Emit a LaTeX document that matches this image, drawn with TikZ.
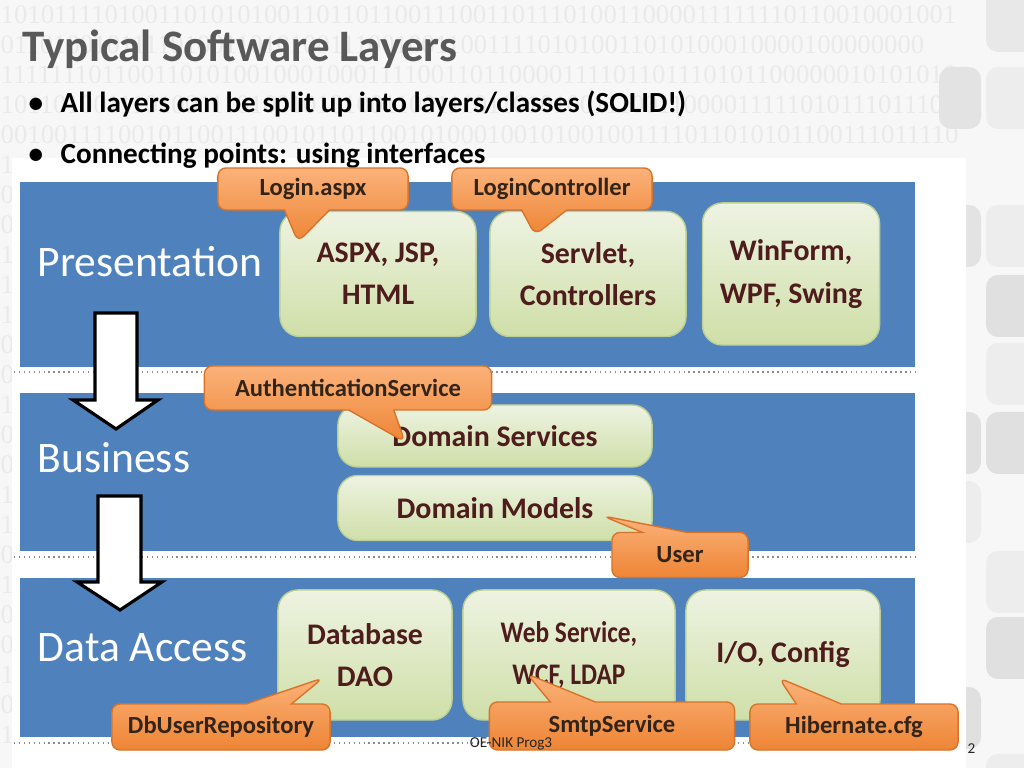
\documentclass[tikz,border=0pt]{standalone}
\usepackage{graphicx}
\usepackage{fontspec}
\setmainfont{Carlito}
\newfontfamily\binfont{Liberation Serif}
\usetikzlibrary{shapes.callouts}
\definecolor{bandblue}{HTML}{4F81BD}
\definecolor{titlegray}{HTML}{595959}
\definecolor{boxtext}{HTML}{4E1C1C}
\definecolor{boxlight}{HTML}{EEF3E2}
\definecolor{boxdark}{HTML}{CFDFA8}
\definecolor{boxline}{HTML}{BCCF92}
\definecolor{calltop}{HTML}{FBB27A}
\definecolor{callbot}{HTML}{EE8535}
\definecolor{callline}{HTML}{D8742A}
\definecolor{calltext}{HTML}{33241A}
\definecolor{slidebg}{HTML}{F7F7F7}
\definecolor{binary}{HTML}{EAEAEA}
\tikzset{
  layerbox/.style={draw=boxline, rounded corners=0.2cm, top color=boxlight, bottom color=boxdark,
    text=boxtext, font=\fontsize{8.5}{12}\selectfont\bfseries, align=center, inner sep=0pt},
  tagbox/.style={rectangle callout, draw=callline, rounded corners=0.08cm, top color=calltop,
    bottom color=callbot, text=calltext, font=\fontsize{7}{8}\selectfont\bfseries, inner sep=0pt,
    callout pointer width=0.45cm},
  layername/.style={anchor=base west, inner sep=0pt, text=white, font=\fontsize{12.4}{14}\selectfont},
  slidetext/.style={anchor=base west, inner sep=0pt, font=\fontsize{8.3}{10}\selectfont\bfseries},
  bindigits/.style={anchor=base west, inner sep=0pt, text=binary, font=\binfont\fontsize{7.6}{9}\selectfont},
  downarrow/.style={draw=black, fill=white, line width=0.9pt, line join=miter},
}
\begin{document}
\begin{tikzpicture}[x=0.01cm,y=-0.01cm]
\useasboundingbox (0,0) rectangle (1024,768);
\fill[slidebg] (0,0) rectangle (1024,768);
\begin{scope}
\clip (0,0) rectangle (1024,768);
\foreach \row [count=\i from 0] in {
  1010111101001101010100110110110011100110111010011000011111110110010001001,
  0110100101111010011010100111001001100111101010011010100010000100000000,
  1111111011001101010010001000111100110110000111101101110101100000010101010,
  1011010011101001110100101010011001110110101001110011000011111010111011101,
  0010011110010110011100101101100101000100101001001111011010101100111011110}
  \node[bindigits] at (0,24+30*\i) {\row};
\foreach \d [count=\i from 5] in {1,0,0,1,1,1,0,0,1,0,0,1,1,0,1,0,0,1,0,1}
  \node[bindigits] at (0,24+30*\i) {\d};
\end{scope}
\foreach \ya/\tone in {-10/9, 67/7, 205/7, 275/12, 343/7, 412/12, 551/7, 617/12, 754/7}
  \fill[black!\tone, rounded corners=0.12cm] (986,\ya) rectangle ++(70,62);
\foreach \ya/\tone in {67/11, 205/11, 412/12, 481/7, 687/12}
  \fill[black!\tone, rounded corners=0.12cm] (939,\ya) rectangle ++(42,62);
\fill[white] (12,158) rectangle (966,768);

\fill[bandblue] (20,182) rectangle (915,367);
\fill[bandblue] (20,393) rectangle (915,551);
\fill[bandblue] (20,578) rectangle (915,737);
\foreach \yd in {372,557,743}
  \draw[black!45, densely dotted] (14,\yd) -- (918,\yd);

\node[anchor=base west, inner sep=0pt, text=titlegray, font=\fontsize{12.8}{15}\selectfont\bfseries] (title) at (22,62) {Typical Software Layers};
\node[slidetext] (dot1) at (28,113) {\textbullet};
\node[slidetext] (bullet1) at (60,113) {All layers can be split up into layers/classes (SOLID!)};
\node[slidetext] (dot2) at (28,164) {\textbullet};
\node[slidetext] (bullet2) at (60,164) {Connecting points: using interfaces};

\node[layername] (presentation) at (37,277) {Presentation};
\node[layername] (business) at (37,473) {Business};
\node[layername] (dataaccess) at (37,662) {Data Access};

\draw[downarrow] (95,313) -- (137,313) -- (137,400) -- (158,400) -- (116,429) -- (73,400) -- (95,400) -- cycle;
\draw[downarrow] (98,496) -- (141,496) -- (141,582) -- (162,582) -- (120,610) -- (77,582) -- (98,582) -- cycle;

\node[layerbox, minimum width=1.96cm, minimum height=1.25cm] (aspx) at (378,274) {ASPX, JSP,\\HTML};
\node[layerbox, minimum width=1.96cm, minimum height=1.25cm] (servlet) at (588,274) {Servlet,\\Controllers};
\node[layerbox, minimum width=1.77cm, minimum height=1.42cm] (winform) at (791,274) {WinForm,\\WPF, Swing};
\node[layerbox, minimum width=3.14cm, minimum height=0.62cm] (domsvc) at (495,436) {Domain Services};
\node[layerbox, minimum width=3.14cm, minimum height=0.65cm] (dommodel) at (495,508) {Domain Models};
\node[layerbox, minimum width=1.74cm, minimum height=1.3cm] (dao) at (365,655) {Database\\DAO};
\node[layerbox, minimum width=2.12cm, minimum height=1.3cm] (websvc) at (569,655) {\scalebox{0.85}[1]{Web Service,}\\\scalebox{0.85}[1]{WCF, LDAP}};
\node[layerbox, minimum width=1.94cm, minimum height=1.3cm] (ioconf) at (783,655) {I/O, Config};

\node[tagbox, minimum width=1.9cm, minimum height=0.42cm, callout absolute pointer={(298,242)}] (loginaspx) at (313,189) {Login.aspx};
\node[tagbox, minimum width=2.0cm, minimum height=0.42cm, callout absolute pointer={(535,235)}] (loginctrl) at (552,189) {LoginController};
\node[tagbox, minimum width=2.87cm, minimum height=0.44cm, callout absolute pointer={(405,442)}] (authsvc) at (348,388) {AuthenticationService};
\node[tagbox, minimum width=1.36cm, minimum height=0.45cm, callout absolute pointer={(603,516)}] (user) at (680,555) {User};
\node[tagbox, minimum width=2.18cm, minimum height=0.46cm, callout absolute pointer={(323,678)}] (dbrepo) at (221,727) {DbUserRepository};
\node[tagbox, minimum width=2.45cm, minimum height=0.48cm, callout absolute pointer={(527,674)}] (smtp) at (612,726) {SmtpService};
\node[tagbox, minimum width=2.08cm, minimum height=0.46cm, callout absolute pointer={(779,678)}] (hibernate) at (854,727) {Hibernate.cfg};

\node[anchor=base, inner sep=0pt, text=black!85, font=\fontsize{4.3}{5}\selectfont] (footer) at (511,748) {OE-NIK Prog3};
\node[anchor=base west, inner sep=0pt, text=black!85, font=\fontsize{4.3}{5}\selectfont] (pagenum) at (967,754) {2};
\end{tikzpicture}
\end{document}
